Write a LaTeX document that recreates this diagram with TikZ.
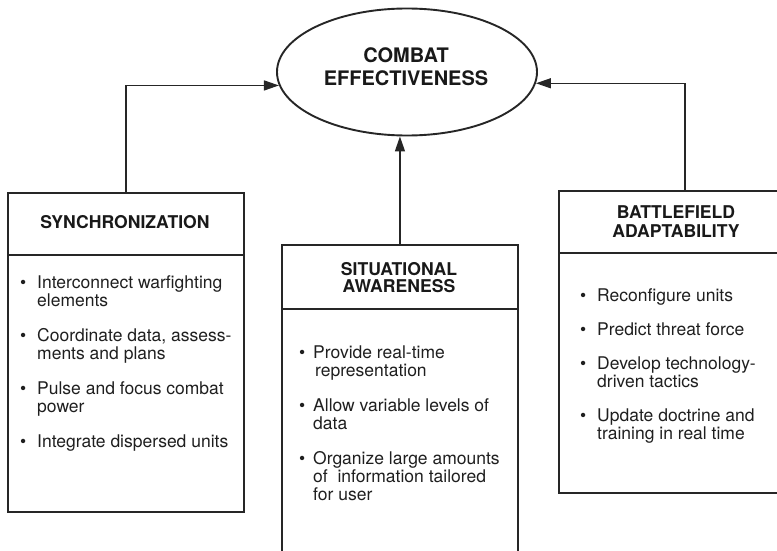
\documentclass[tikz,border=0pt]{standalone}
\usepackage{fontspec}
\setmainfont{TeX Gyre Heros}
\usetikzlibrary{shapes.geometric,arrows.meta}
\newcommand{\itembul}[1]{\llap{\textbullet\hspace{#1pt}}}
\begin{document}
\begin{tikzpicture}[x=1pt,y=-1pt,
  boxpart/.style={draw=black!85, line width=1.9pt, inner sep=0pt, anchor=north west},
  hdr/.style={font=\fontsize{17.6}{19}\selectfont\bfseries, anchor=base, inner sep=0pt, text=black!90},
  ehdr/.style={font=\fontsize{20}{22}\selectfont\bfseries, anchor=base, inner sep=0pt, text=black!90},
  ln/.style={font=\fontsize{17.5}{18}\selectfont, anchor=base west, inner sep=0pt, text=black!88},
  conn/.style={line width=1.4pt, draw=black!85, -{Triangle[length=15pt,width=10pt]}}]
\useasboundingbox (0,0) rectangle (777,551);
\clip (0,0) rectangle (777,551);
\fill[white] (0,0) rectangle (777,551);

% ellipse
\node[draw=black!85, line width=1.9pt, ellipse, minimum width=260pt, minimum height=127pt, inner sep=0pt] (ce) at (407,72) {};
\node[ehdr] (ce1) at (406,63) {COMBAT};
\node[ehdr] (ce2) at (406,85) {EFFECTIVENESS};

% boxes
\node[boxpart, minimum width=236pt, minimum height=62pt] (sh) at (7,192) {};
\node[boxpart, minimum width=236pt, minimum height=257pt] (sb) at (7,254) {};
\node[boxpart, minimum width=236pt, minimum height=64pt] (ch) at (281,244) {};
\node[boxpart, minimum width=236pt, minimum height=260pt] (cb) at (281,308) {};
\node[boxpart, minimum width=252pt, minimum height=62pt] (rh) at (558,190) {};
\node[boxpart, minimum width=252pt, minimum height=240pt] (rb) at (558,252) {};

% connectors
\draw[conn] (sh.north) |- (ce.186);
\draw[conn] (rh.north) |- (ce.355);
\draw[conn] (ch.north) -- (ch.north |- ce.south);

% headers
\node[hdr] (sht) at (125,228) {SYNCHRONIZATION};
\node[hdr] (cht1) at (399,275) {SITUATIONAL};
\node[hdr] (cht2) at (399,292) {AWARENESS};
\node[hdr] (rht1) at (676,218) {BATTLEFIELD};
\node[hdr] (rht2) at (676,237) {ADAPTABILITY};

% left items
\node[ln] (s1a) at (37,288) {\itembul{11}Interconnect warfighting};
\node[ln] (s1b) at (37,306) {elements};
\node[ln] (s2a) at (37,341) {\itembul{11}Coordinate data, assess-};
\node[ln] (s2b) at (37,359) {ments and plans};
\node[ln] (s3a) at (37,394) {\itembul{11}Pulse and focus combat};
\node[ln] (s3b) at (37,412) {power};
\node[ln] (s4a) at (37,447) {\itembul{11}Integrate dispersed units};

% center items
\node[ln] (c1a) at (313,358) {\itembul{8}Provide real-time};
\node[ln] (c1b) at (315,376) {representation};
\node[ln] (c2a) at (313,411) {\itembul{8}Allow variable levels of};
\node[ln] (c2b) at (313,429) {data};
\node[ln] (c3a) at (313,464) {\itembul{8}Organize large amounts};
\node[ln] (c3b) at (313,482) {of~ information tailored};
\node[ln] (c3c) at (313,500) {for user};

% right items
\node[ln] (r1) at (597,301) {\itembul{11}Reconfigure units};
\node[ln] (r2) at (597,335) {\itembul{11}Predict threat force};
\node[ln] (r3a) at (597,369) {\itembul{11}Develop technology-};
\node[ln] (r3b) at (597,387) {driven tactics};
\node[ln] (r4a) at (597,421) {\itembul{11}Update doctrine and};
\node[ln] (r4b) at (597,439) {training in real time};
\end{tikzpicture}
\end{document}
